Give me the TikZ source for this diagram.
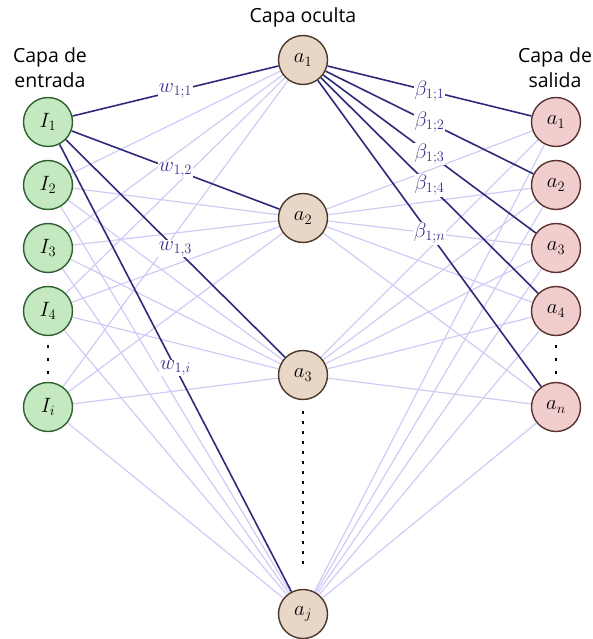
\documentclass[tikz,border=0pt]{standalone}
\usepackage{fontspec}
\setsansfont{Open Sans}
\usetikzlibrary{backgrounds}
\definecolor{inFill}{HTML}{C4E8C0}
\definecolor{inLine}{HTML}{2F5F2F}
\definecolor{hidFill}{HTML}{E8D6C6}
\definecolor{hidLine}{HTML}{4A382C}
\definecolor{outFill}{HTML}{F2CDCD}
\definecolor{outLine}{HTML}{5A3232}
\definecolor{strongLine}{HTML}{2E2A7A}
\definecolor{weakLine}{HTML}{D0CBF5}
\definecolor{lblText}{HTML}{3C2F8F}
\begin{document}
\begin{tikzpicture}[x=1pt,y=-1pt,
    neuron/.style={circle, line width=1.4pt, minimum size=49pt, inner sep=0pt,
        font=\fontsize{20.74}{25}\selectfont},
    inneuron/.style={neuron, fill=inFill, draw=inLine},
    hidneuron/.style={neuron, fill=hidFill, draw=hidLine},
    outneuron/.style={neuron, fill=outFill, draw=outLine},
    layertitle/.style={align=center, font=\sffamily\fontsize{19.5}{25}\selectfont},
    weak/.style={draw=weakLine, line width=1.2pt},
    strong/.style={draw=strongLine, line width=1.6pt},
    wlbl/.style={fill=white, inner sep=1pt, text=lblText, font=\fontsize{20.74}{25}\selectfont},
    vdotline/.style={line width=2.5pt, dash pattern=on 2.5pt off 7.5pt},
    skipdots/.style={line width=2.5pt, dash pattern=on 2.5pt off 10.5pt}
]
    \useasboundingbox (0,0) rectangle (592,639);

    % Layer titles
    \node[layertitle] (tIn) at (50,68) {Capa de\\entrada};
    \node[layertitle] (tHid) at (303,17) {Capa oculta};
    \node[layertitle] (tOut) at (555,68) {Capa de\\salida};

    % Input layer
    \node[inneuron] (I1) at (48,122) {$I_1$};
    \node[inneuron] (I2) at (48,185) {$I_2$};
    \node[inneuron] (I3) at (48,248) {$I_3$};
    \node[inneuron] (I4) at (48,311) {$I_4$};
    \node[inneuron] (Ii) at (48,407) {$I_i$};

    % Hidden layer
    \node[hidneuron] (a1) at (303,60) {$a_1$};
    \node[hidneuron] (a2) at (303,218) {$a_2$};
    \node[hidneuron] (a3) at (303,375) {$a_3$};
    \node[hidneuron] (aj) at (303,614) {$a_j$};

    % Output layer
    \node[outneuron] (o1) at (556,122) {$a_1$};
    \node[outneuron] (o2) at (556,185) {$a_2$};
    \node[outneuron] (o3) at (556,248) {$a_3$};
    \node[outneuron] (o4) at (556,311) {$a_4$};
    \node[outneuron] (on) at (556,407) {$a_n$};

    \begin{scope}[on background layer]
        % Light connections
        \foreach \i in {I2,I3,I4,Ii}
            \foreach \h in {a1,a2,a3,aj}
                \draw[weak] (\i) -- (\h);
        \foreach \h in {a2,a3,aj}
            \foreach \o in {o1,o2,o3,o4,on}
                \draw[weak] (\h) -- (\o);

        % Weights of I_1
        \draw[strong] (I1) -- node[wlbl] {$w_{1;1}$} (a1);
        \draw[strong] (I1) -- node[wlbl] {$w_{1,2}$} (a2);
        \draw[strong] (I1) -- node[wlbl] {$w_{1,3}$} (a3);
        \draw[strong] (I1) -- node[wlbl] {$w_{1,i}$} (aj);

        % Weights of a_1
        \draw[strong] (a1) -- node[wlbl] {$\beta_{1;1}$} (o1);
        \draw[strong] (a1) -- node[wlbl] {$\beta_{1;2}$} (o2);
        \draw[strong] (a1) -- node[wlbl] {$\beta_{1;3}$} (o3);
        \draw[strong] (a1) -- node[wlbl] {$\beta_{1;4}$} (o4);
        \draw[strong] (a1) -- node[wlbl] {$\beta_{1;n}$} (on);
    \end{scope}

    % Dots for the skipped neurons
    \draw[skipdots, shorten <=9pt, shorten >=8pt] (I4) -- (Ii);
    \draw[skipdots, shorten <=9pt, shorten >=8pt] (o4) -- (on);
    \draw[vdotline, shorten <=11pt, shorten >=25pt] (a3) -- (aj);
\end{tikzpicture}
\end{document}
